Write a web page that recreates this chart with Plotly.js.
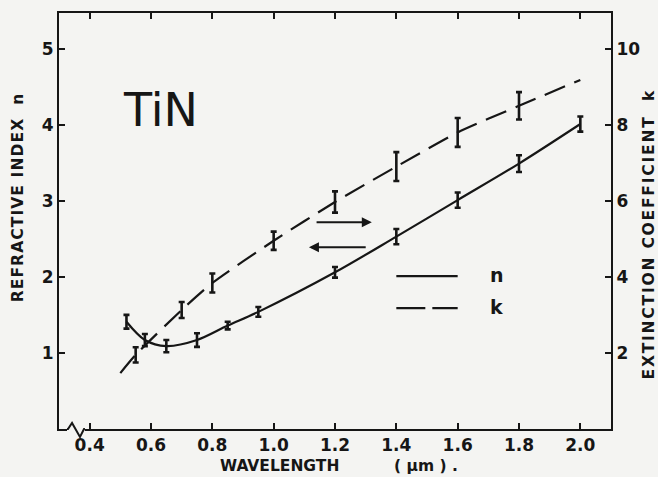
<!DOCTYPE html>
<html>
<head>
<meta charset="utf-8">
<script src="https://cdn.plot.ly/plotly-3.0.1.min.js"></script>
<style>
  html, body { margin: 0; padding: 0; background: #f4f4f2; }
  #chart { width: 658px; height: 477px; }
  /* widen the letter spacing of the two vertical axis titles */
  g.annotation[data-index="5"] text { letter-spacing: 1.1px; }
  g.annotation[data-index="6"] text { letter-spacing: 1.8px; }
</style>
</head>
<body>
<div id="chart"></div>
<script>
// Optical constants of TiN versus wavelength (µm)
const nWave = [0.52, 0.58, 0.65, 0.75, 0.85, 0.95, 1.2, 1.4, 1.6, 1.8, 2.0];
const nVal  = [1.41, 1.17, 1.09, 1.17, 1.36, 1.54, 2.06, 2.53, 3.01, 3.49, 4.01];
const nErr  = [0.09, 0.08, 0.08, 0.09, 0.05, 0.065, 0.07, 0.10, 0.10, 0.11, 0.10];

const kWave = [0.55, 0.70, 0.80, 1.0, 1.2, 1.4, 1.6, 1.8];
const kVal  = [1.95, 3.13, 3.84, 4.95, 5.97, 6.90, 7.80, 8.50];
const kErr  = [0.20, 0.21, 0.25, 0.24, 0.28, 0.38, 0.38, 0.36];

// fitted k curve extends past the measured points at both ends
const kCurveWave = [0.50, ...kWave, 2.0];
const kCurveVal  = [1.47, ...kVal, 9.18];

const xTicks = [0.4, 0.6, 0.8, 1.0, 1.2, 1.4, 1.6, 1.8, 2.0];
const xTickText = ['0.4', '0.6', '0.8', '1.0', '1.2', '1.4', '1.6', '1.8', '2.0'];
const nTicks = [1, 2, 3, 4, 5];
const kTicks = [2, 4, 6, 8, 10];

const ink = '#161616';
const bg = '#f4f4f2';
const tickFont = { family: 'DejaVu Sans, sans-serif', size: 17, color: ink, weight: 'bold' };
const titleFont = { family: 'DejaVu Sans, sans-serif', size: 15.5, color: ink, weight: 'bold' };

const traces = [
  { // n: smooth curve with error bars
    x: nWave, y: nVal, type: 'scatter', mode: 'lines',
    line: { color: ink, width: 2.2, shape: 'spline', smoothing: 0.9 },
    error_y: { type: 'data', array: nErr, visible: true, color: ink, thickness: 2.6, width: 3 },
    hoverinfo: 'skip', yaxis: 'y'
  },
  { // k: dashed curve
    x: kCurveWave, y: kCurveVal, type: 'scatter', mode: 'lines',
    line: { color: ink, width: 2.2, dash: '22px,10px', shape: 'spline', smoothing: 0.6 },
    hoverinfo: 'skip', yaxis: 'y2'
  },
  { // k: measured points with error bars
    x: kWave, y: kVal, type: 'scatter', mode: 'markers',
    marker: { size: 1, color: ink, opacity: 0 },
    error_y: { type: 'data', array: kErr, visible: true, color: ink, thickness: 2.6, width: 3 },
    hoverinfo: 'skip', yaxis: 'y2'
  }
];

const layout = {
  width: 658, height: 477,
  margin: { l: 59, r: 47, t: 13, b: 48 },
  paper_bgcolor: bg, plot_bgcolor: bg,
  showlegend: false,
  xaxis: {
    range: [0.3, 2.1], tickvals: xTicks, ticktext: xTickText,
    ticks: 'inside', ticklen: 6, tickwidth: 2, tickcolor: ink,
    showline: true, linewidth: 2, linecolor: ink, mirror: 'ticks',
    showgrid: false, zeroline: false, tickfont: tickFont
  },
  yaxis: {
    range: [0, 5.47], tickvals: nTicks,
    ticks: 'inside', ticklen: 6, tickwidth: 2, tickcolor: ink,
    showline: true, linewidth: 2, linecolor: ink,
    showgrid: false, zeroline: false, tickfont: tickFont
  },
  yaxis2: {
    range: [0, 10.94], tickvals: kTicks, overlaying: 'y', side: 'right',
    ticks: 'inside', ticklen: 6, tickwidth: 2, tickcolor: ink,
    showline: true, linewidth: 2, linecolor: ink,
    showgrid: false, zeroline: false, tickfont: tickFont
  },
  shapes: [
    // axis break on the wavelength axis
    { type: 'rect', xref: 'paper', yref: 'paper', x0: 0.0145, x1: 0.047, y0: -0.008, y1: 0.008,
      fillcolor: bg, line: { width: 0 }, layer: 'above' },
    { type: 'path', xref: 'paper', yref: 'paper',
      path: 'M 0.0145 0 L 0.0163 0 L 0.0236 0.0144 L 0.038 -0.0192 L 0.0453 0 L 0.047 0',
      line: { color: ink, width: 2 }, layer: 'above' },
    // key
    { type: 'line', xref: 'x', yref: 'y', x0: 1.40, x1: 1.60, y0: 2.01, y1: 2.01,
      line: { color: ink, width: 2.2 } },
    { type: 'line', xref: 'x', yref: 'y', x0: 1.40, x1: 1.60, y0: 1.59, y1: 1.59,
      line: { color: ink, width: 2.2, dash: '29px,7px' } }
  ],
  annotations: [
    { xref: 'x', yref: 'y', x: 0.63, y: 4.2, text: 'TiN', showarrow: false,
      xanchor: 'center', yanchor: 'middle',
      font: { family: 'DejaVu Sans, sans-serif', size: 46, color: ink } },
    { xref: 'x', yref: 'y', x: 1.70, y: 2.03, text: 'n', showarrow: false, xanchor: 'left', yanchor: 'middle',
      font: { family: 'DejaVu Sans, sans-serif', size: 19, color: ink, weight: 'bold' } },
    { xref: 'x', yref: 'y', x: 1.70, y: 1.61, text: 'k', showarrow: false, xanchor: 'left', yanchor: 'middle',
      font: { family: 'DejaVu Sans, sans-serif', size: 19, color: ink, weight: 'bold' } },
    // arrows pointing to the axis that each curve is read on
    { xref: 'x', yref: 'y', axref: 'x', ayref: 'y', x: 1.32, y: 2.72, ax: 1.135, ay: 2.72,
      text: '', showarrow: true, arrowhead: 2, arrowsize: 1, arrowwidth: 2, arrowcolor: ink },
    { xref: 'x', yref: 'y', axref: 'x', ayref: 'y', x: 1.115, y: 2.39, ax: 1.305, ay: 2.39,
      text: '', showarrow: true, arrowhead: 2, arrowsize: 1, arrowwidth: 2, arrowcolor: ink },
    // axis titles
    { xref: 'paper', yref: 'paper', x: -0.0743, y: 0.558, text: 'REFRACTIVE INDEX  n',
      xanchor: 'center', yanchor: 'middle',
      textangle: -90, showarrow: false, font: titleFont },
    { xref: 'paper', yref: 'paper', x: 1.069, y: 0.469, text: 'EXTINCTION COEFFICIENT  k',
      xanchor: 'center', yanchor: 'middle',
      textangle: -90, showarrow: false, font: titleFont },
    { xref: 'paper', yref: 'paper', x: 0.40, y: -0.089, text: 'WAVELENGTH',
      xanchor: 'center', yanchor: 'middle', showarrow: false, font: titleFont },
    { xref: 'paper', yref: 'paper', x: 0.665, y: -0.089, text: '( µm ) .',
      xanchor: 'center', yanchor: 'middle', showarrow: false, font: titleFont }
  ]
};

Plotly.newPlot('chart', traces, layout, { staticPlot: true, displayModeBar: false });
</script>
</body>
</html>
